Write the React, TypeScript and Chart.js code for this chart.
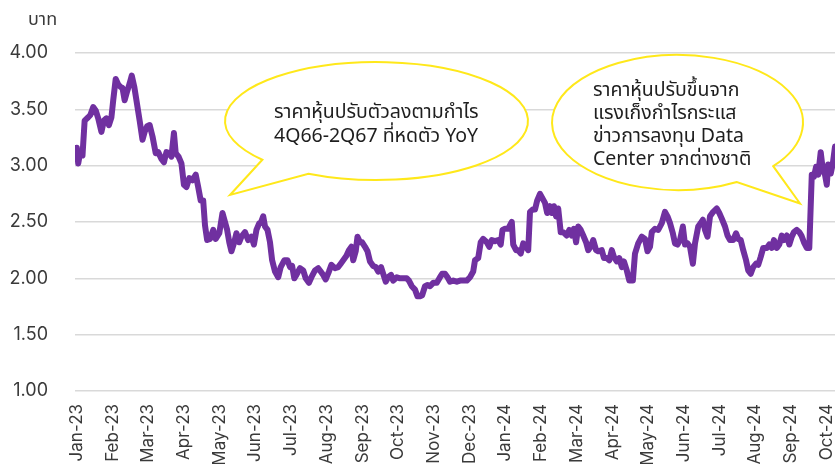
import React, { useEffect, useRef } from 'react';
import { Chart, registerables } from 'chart.js';

Chart.register(...registerables);

// ---------- data ----------
const monthLabels = [
  'Jan-23', 'Feb-23', 'Mar-23', 'Apr-23', 'May-23', 'Jun-23', 'Jul-23', 'Aug-23', 'Sep-23', 'Oct-23', 'Nov-23',
  'Dec-23', 'Jan-24', 'Feb-24', 'Mar-24', 'Apr-24', 'May-24', 'Jun-24', 'Jul-24', 'Aug-24', 'Sep-24', 'Oct-24',
];

// position in months since start of Jan-23
const tradeMonth = [
  0.00, 0.04, 0.08, 0.16, 0.22, 0.32, 0.38, 0.46, 0.53, 0.60, 0.69, 0.76, 0.83, 0.90, 0.97,
  1.02, 1.09, 1.16, 1.22, 1.28, 1.34, 1.41, 1.48, 1.54, 1.61, 1.67, 1.76, 1.84, 1.90, 1.97,
  2.04, 2.12, 2.21, 2.28, 2.37, 2.44, 2.51, 2.59, 2.65, 2.72, 2.77, 2.85, 2.93,
  3.00, 3.07, 3.15, 3.24, 3.33, 3.40, 3.47, 3.54, 3.59, 3.65, 3.73, 3.82, 3.89, 3.99,
  4.08, 4.15, 4.21, 4.27, 4.33, 4.40, 4.47, 4.55, 4.61, 4.71, 4.80, 4.89, 4.96,
  5.03, 5.11, 5.15, 5.22, 5.27, 5.34, 5.41, 5.47, 5.55, 5.64, 5.71, 5.81, 5.90, 5.97,
  6.03, 6.09, 6.15, 6.25, 6.34, 6.41, 6.50, 6.57, 6.67, 6.76, 6.83, 6.90, 6.97,
  7.06, 7.13, 7.23, 7.32, 7.39, 7.46, 7.55, 7.62, 7.69, 7.74, 7.81, 7.86, 7.93, 7.99,
  8.07, 8.14, 8.21, 8.30, 8.37, 8.44, 8.52, 8.58, 8.65, 8.72, 8.80, 8.86, 8.96,
  9.05, 9.14, 9.24, 9.30, 9.38, 9.47, 9.54, 9.61, 9.67, 9.75, 9.82, 9.89, 9.98,
  10.08, 10.17, 10.23, 10.31, 10.38, 10.45, 10.54, 10.64, 10.73, 10.82, 10.92,
  11.01, 11.10, 11.15, 11.24, 11.31, 11.38, 11.48, 11.55, 11.62, 11.71, 11.80, 11.87, 11.92, 11.99,
  12.08, 12.18, 12.22, 12.30, 12.36, 12.43, 12.50, 12.58, 12.64, 12.69, 12.76, 12.83, 12.89, 12.97,
  13.04, 13.11, 13.17, 13.25, 13.30, 13.36, 13.42, 13.48, 13.55, 13.62, 13.72, 13.79, 13.86, 13.92, 13.98,
  14.04, 14.11, 14.18, 14.26, 14.32, 14.39, 14.46, 14.54, 14.60, 14.70, 14.76, 14.84, 14.91, 14.98,
  15.04, 15.12, 15.19, 15.26, 15.32, 15.40, 15.47, 15.57, 15.63, 15.72, 15.82, 15.91, 15.98,
  16.05, 16.10, 16.19, 16.28, 16.38, 16.47, 16.54, 16.61, 16.69, 16.75, 16.82, 16.89, 16.97,
  17.03, 17.10, 17.17, 17.25, 17.31, 17.40, 17.47, 17.53, 17.59, 17.66, 17.73, 17.82, 17.92, 17.99,
  18.06, 18.15, 18.22, 18.29, 18.38, 18.46, 18.52, 18.59, 18.66, 18.74, 18.80, 18.87, 18.94,
  19.02, 19.08, 19.15, 19.22, 19.32, 19.39, 19.46, 19.52, 19.60, 19.67, 19.74, 19.80, 19.88, 19.95,
  20.02, 20.08, 20.16, 20.23, 20.29, 20.36, 20.44, 20.51, 20.58, 20.64, 20.70, 20.76, 20.83, 20.89, 20.95,
  21.00, 21.04, 21.11, 21.17, 21.23, 21.28,
];

// closing price, THB
const priceTHB = [
  3.16, 3.02, 3.09, 3.09, 3.40, 3.43, 3.45, 3.52, 3.49, 3.42, 3.30, 3.40, 3.42, 3.36, 3.43,
  3.58, 3.77, 3.72, 3.70, 3.69, 3.58, 3.66, 3.73, 3.80, 3.70, 3.58, 3.40, 3.23, 3.30, 3.35,
  3.36, 3.26, 3.11, 3.12, 3.06, 3.03, 3.12, 3.11, 3.08, 3.29, 3.11, 3.08, 3.02,
  2.83, 2.81, 2.89, 2.87, 2.92, 2.81, 2.69, 2.69, 2.47, 2.34, 2.35, 2.43, 2.35, 2.40,
  2.58, 2.50, 2.43, 2.32, 2.24, 2.31, 2.40, 2.32, 2.37, 2.41, 2.34, 2.37, 2.30,
  2.43, 2.49, 2.49, 2.55, 2.46, 2.43, 2.32, 2.16, 2.06, 2.01, 2.10, 2.16, 2.16, 2.10,
  2.11, 2.00, 2.03, 2.09, 2.07, 2.00, 1.96, 2.01, 2.07, 2.09, 2.06, 2.03, 1.99,
  2.06, 2.12, 2.09, 2.10, 2.13, 2.16, 2.20, 2.25, 2.28, 2.16, 2.24, 2.37, 2.32, 2.32,
  2.28, 2.24, 2.15, 2.11, 2.10, 2.06, 2.10, 2.04, 1.97, 2.01, 2.03, 1.98, 2.01,
  2.00, 2.00, 2.00, 1.98, 1.93, 1.90, 1.84, 1.84, 1.85, 1.93, 1.94, 1.93, 1.96,
  1.96, 2.01, 2.04, 2.04, 2.01, 1.97, 1.98, 1.97, 1.98, 1.98, 1.98,
  2.01, 2.06, 2.16, 2.18, 2.32, 2.35, 2.32, 2.28, 2.34, 2.33, 2.34, 2.30, 2.43, 2.44,
  2.44, 2.50, 2.30, 2.25, 2.25, 2.22, 2.31, 2.28, 2.25, 2.59, 2.61, 2.61, 2.69, 2.75,
  2.71, 2.67, 2.58, 2.64, 2.58, 2.64, 2.55, 2.62, 2.41, 2.41, 2.38, 2.43, 2.38, 2.44, 2.32,
  2.46, 2.43, 2.38, 2.32, 2.25, 2.28, 2.34, 2.25, 2.24, 2.25, 2.18, 2.18, 2.16, 2.25,
  2.19, 2.15, 2.18, 2.10, 2.15, 2.07, 1.98, 1.98, 2.22, 2.31, 2.37, 2.35, 2.24,
  2.28, 2.41, 2.44, 2.43, 2.49, 2.59, 2.55, 2.49, 2.40, 2.31, 2.30, 2.34, 2.46,
  2.30, 2.31, 2.28, 2.13, 2.31, 2.46, 2.49, 2.52, 2.43, 2.37, 2.55, 2.59, 2.62, 2.58,
  2.53, 2.46, 2.38, 2.34, 2.34, 2.40, 2.35, 2.34, 2.25, 2.16, 2.07, 2.04, 2.10,
  2.13, 2.12, 2.19, 2.27, 2.27, 2.30, 2.27, 2.34, 2.27, 2.30, 2.38, 2.34, 2.38, 2.30,
  2.37, 2.41, 2.43, 2.41, 2.38, 2.32, 2.27, 2.27, 2.92, 2.90, 2.99, 2.92, 3.12, 2.96, 2.92,
  2.83, 3.01, 2.93, 3.02, 3.17, 3.24,
];

const yMin = 1.0;
const yMax = 4.0;
const yStep = 0.5;
const unitLabel = 'บาท';
const calloutLeftLines = ['ราคาหุ้นปรับตัวลงตามกำไร', '4Q66-2Q67 ที่หดตัว YoY'];
const calloutRightLines = ['ราคาหุ้นปรับขึ้นจาก', 'แรงเก็งกำไรกระแส', 'ข่าวการลงทุน Data', 'Center จากต่างชาติ'];

// ---------- styles / layout ----------
const W = 835;
const H = 464;
const TICK_FONT = 'Inter, "Noto Sans Thai", "Noto Sans", sans-serif';
const TEXT_FONT = '"Noto Sans", "Noto Sans Thai", sans-serif';
const LINE_COLOR = '#7030A0';
const GRID_COLOR = '#d9d9d9';
const TICK_COLOR = '#3a3a3a';
const BUBBLE_COLOR = '#FFE81A';

const deg = (d: number) => (d * Math.PI) / 180;

const callouts = [
  {
    cx: 376.5, cy: 121, rx: 151.5, ry: 59,
    gapFrom: deg(116.7), gapTo: deg(138.9), tip: [230, 195],
    textX: 274, textY0: 112, lineH: 24.5, lines: calloutLeftLines,
  },
  {
    cx: 677.5, cy: 122.5, rx: 125.5, ry: 67.5,
    gapFrom: deg(40.3), gapTo: deg(61.8), tip: [800, 203.5],
    textX: 593, textY0: 90, lineH: 23.2, lines: calloutRightLines,
  },
];

const overlayPlugin = {
  id: 'overlay',
  afterDatasetsDraw(chart: any) {
    const ctx = chart.ctx as CanvasRenderingContext2D;
    ctx.save();
    for (const c of callouts) {
      ctx.beginPath();
      ctx.ellipse(c.cx, c.cy, c.rx, c.ry, 0, c.gapTo, c.gapFrom + Math.PI * 2);
      ctx.lineTo(c.tip[0], c.tip[1]);
      ctx.closePath();
      ctx.fillStyle = '#ffffff';
      ctx.fill();
      ctx.lineWidth = 2;
      ctx.strokeStyle = BUBBLE_COLOR;
      ctx.lineJoin = 'miter';
      ctx.stroke();
      ctx.fillStyle = '#1e1e1e';
      ctx.font = `19.5px ${TEXT_FONT}`;
      ctx.textAlign = 'left';
      ctx.textBaseline = 'middle';
      c.lines.forEach((t, i) => ctx.fillText(t, c.textX, c.textY0 + i * c.lineH));
    }
    ctx.fillStyle = TICK_COLOR;
    ctx.font = `18px ${TEXT_FONT}`;
    ctx.textAlign = 'left';
    ctx.textBaseline = 'middle';
    ctx.fillText(unitLabel, 28, 20);
    ctx.restore();
  },
};

export default function App() {
  const ref = useRef<HTMLCanvasElement | null>(null);

  useEffect(() => {
    if (!ref.current) return;
    const points = tradeMonth.map((m, i) => ({ x: m, y: priceTHB[i] }));
    const chart = new Chart(ref.current, {
      type: 'line',
      data: {
        datasets: [
          {
            data: points,
            borderColor: LINE_COLOR,
            backgroundColor: LINE_COLOR,
            borderWidth: 6,
            pointRadius: 0,
            tension: 0,
            borderJoinStyle: 'round',
            borderCapStyle: 'round',
          },
        ],
      },
      options: {
        responsive: false,
        animation: false,
        layout: { padding: { top: 53, left: 0, right: 0, bottom: 0 } },
        plugins: { legend: { display: false }, tooltip: { enabled: false }, title: { display: false } },
        scales: {
          x: {
            type: 'linear',
            min: -0.05,
            max: 21.23,
            grid: { display: false, drawTicks: false },
            border: { display: false },
            afterBuildTicks: (scale: any) => {
              scale.ticks = monthLabels.map((_, i) => ({ value: i }));
            },
            afterFit: (scale: any) => {
              scale.height = 73;
              scale.paddingLeft = 0;
              scale.paddingRight = 0;
            },
            ticks: {
              autoSkip: false,
              maxRotation: 90,
              minRotation: 90,
              padding: 13,
              color: TICK_COLOR,
              font: { family: TICK_FONT, size: 17 },
              callback: (v: any) => monthLabels[Math.round(Number(v))] ?? '',
            },
          },
          y: {
            min: yMin,
            max: yMax,
            grid: { color: GRID_COLOR, lineWidth: 1.5, drawTicks: false },
            border: { display: false },
            afterFit: (scale: any) => {
              scale.width = 75;
              scale.paddingTop = 0;
              scale.paddingBottom = 0;
            },
            ticks: {
              stepSize: yStep,
              padding: 27,
              color: TICK_COLOR,
              font: { family: TICK_FONT, size: 18 },
              callback: (v: any) => Number(v).toFixed(2),
            },
          },
        },
      },
      plugins: [overlayPlugin],
    });
    return () => chart.destroy();
  }, []);

  return (
    <div style={{ position: 'fixed', left: 0, top: 0, width: W, height: H, background: '#fff' }}>
      <canvas ref={ref} width={W} height={H} style={{ display: 'block', width: W, height: H }} />
    </div>
  );
}
